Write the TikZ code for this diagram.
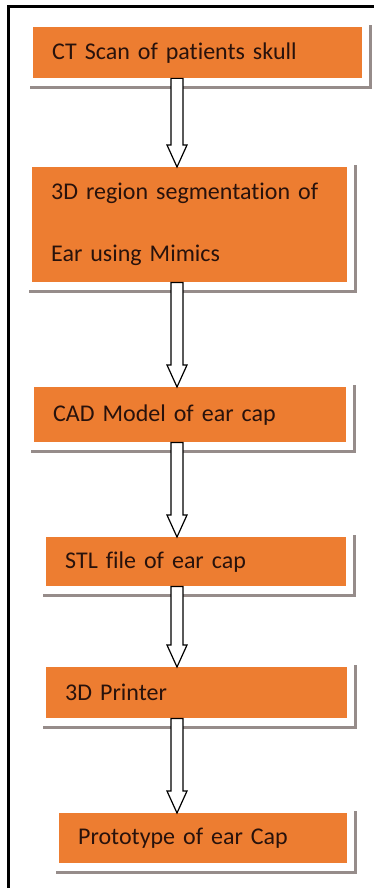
\documentclass[tikz,border=0pt]{standalone}
\usepackage{fontspec}
\setmainfont{Carlito}[Ligatures=CommonOff]
\usetikzlibrary{calc, positioning, backgrounds}

\definecolor{boxorange}{RGB}{237,125,49}
\definecolor{boxtext}{RGB}{40,18,12}
\definecolor{shadowgray}{RGB}{150,140,138}

\tikzset{
  stepbox/.style={fill=boxorange, text=boxtext, anchor=north west, inner xsep=19pt, inner ysep=0pt,
    align=left, font=\fontsize{24}{30}\selectfont},
  hollow/.style={draw=black, line width=1.2pt, fill=white,
    to path={let \p1=(\tikztostart), \p2=(\tikztotarget) in
      (\x1-6pt,\y1) -- (\x1-6pt,\y2+22pt) -- (\x1-10pt,\y2+22pt) -- (\x2,\y2)
      -- (\x1+10pt,\y2+22pt) -- (\x1+6pt,\y2+22pt) -- (\x1+6pt,\y1) -- cycle}}
}

\begin{document}
\begin{tikzpicture}[x=1pt, y=-1pt]

    \useasboundingbox (0,0) rectangle (374,888);
    \draw[line width=3pt] (8,888) -- (8,7) -- (374,7);

    \node[stepbox, text width=291pt, minimum height=51pt] (c1) at (33,27) {CT Scan of patients skull};
    \node[stepbox, text width=277pt, minimum height=115pt, font=\fontsize{24}{62}\selectfont] (c2) at (32,167)
        {3D region segmentation of\\Ear using Mimics};
    \node[stepbox, text width=274pt, minimum height=55pt] (c3) at (34,387) {CAD Model of ear cap};
    \node[stepbox, text width=262pt, minimum height=49pt] (c4) at (46,537) {STL file of ear cap};
    \node[stepbox, text width=263pt, minimum height=51pt] (c5) at (46,667) {3D Printer};
    \node[stepbox, text width=250pt, minimum height=50pt] (c6) at (59,813) {Prototype of ear Cap};

    % halo and shadow behind the boxes
    \begin{scope}[on background layer]
        \foreach \n in {c1,c2,c3,c4,c5,c6} {
            \fill[shadowgray] ($(\n.north west)+(-3,-2)$) rectangle ($(\n.south east)+(10,11)$);
            \fill[white] ($(\n.north west)+(-6,-6)$) rectangle ($(\n.south east)+(7,8)$);
        }
    \end{scope}

    \coordinate (ax) at (177,0);
    \draw[hollow] (c1.south -| ax) to (c2.north -| ax);
    \draw[hollow] (c2.south -| ax) to (c3.north -| ax);
    \draw[hollow] (c3.south -| ax) to (c4.north -| ax);
    \draw[hollow] (c4.south -| ax) to (c5.north -| ax);
    \draw[hollow] (c5.south -| ax) to (c6.north -| ax);

\end{tikzpicture}
\end{document}
